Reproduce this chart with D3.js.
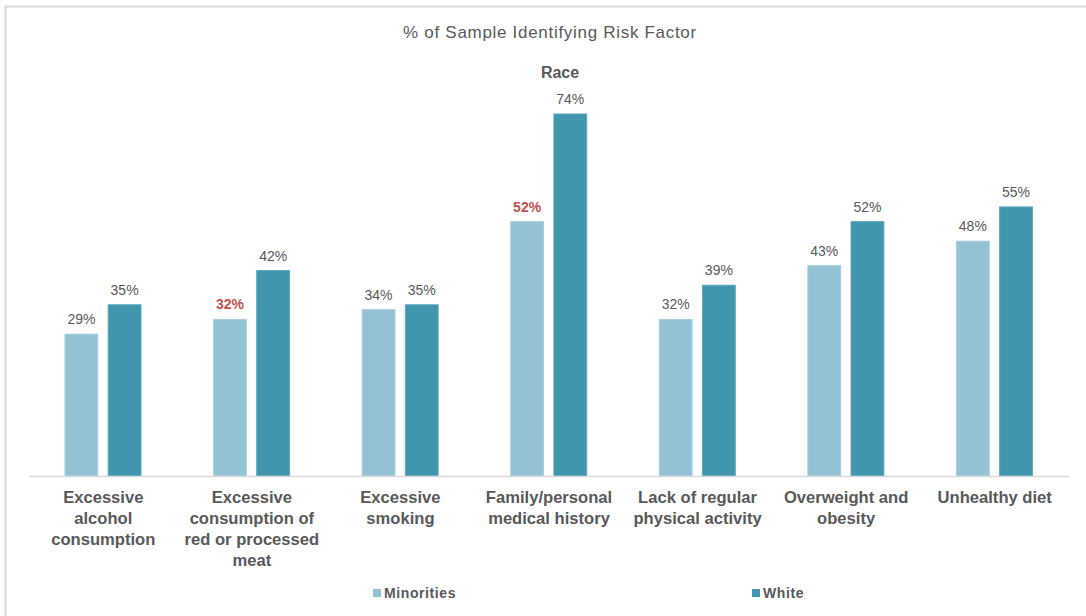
<!DOCTYPE html>
<html><head><meta charset="utf-8">
<script src="https://cdn.jsdelivr.net/npm/d3@7"></script>
<style>body{margin:0;background:#fff}svg{display:block;font-family:"Liberation Sans",Arial,sans-serif}</style>
</head><body><svg id="c" width="1086" height="616"></svg>
<script>
const categories = [
  ["Excessive","alcohol","consumption"],
  ["Excessive","consumption of","red or processed","meat"],
  ["Excessive","smoking"],
  ["Family/personal","medical history"],
  ["Lack of regular","physical activity"],
  ["Overweight and","obesity"],
  ["Unhealthy diet"]
];
const seriesNames = ["Minorities","White"];
const minorities = [29,32,34,52,32,43,48];
const white = [35,42,35,74,39,52,55];
const highlighted = [[false,true,false,true,false,false,false],[false,false,false,false,false,false,false]];
const colors = ["#92c2d4","#4196ae"];

const svg = d3.select("#c");
svg.append("rect").attr("x",5.5).attr("y",6.5).attr("width",1100).attr("height",700)
  .attr("fill","none").attr("stroke","#d9d9d9").attr("stroke-width",2);

const x0 = d3.scaleBand().domain(d3.range(categories.length)).range([29,1069]).paddingInner(0).paddingOuter(0);
const x1 = d3.scaleBand().domain([0,1]).range([36,112]).paddingInner(0.24);
const y = d3.scaleLinear().domain([0,74]).range([476,114]);

svg.append("text").attr("x",550).attr("y",38).attr("text-anchor","middle")
  .attr("font-size",17).attr("letter-spacing",0.7).attr("fill","#595959").text("% of Sample Identifying Risk Factor");
svg.append("text").attr("x",560).attr("y",78).attr("text-anchor","middle")
  .attr("font-size",16).attr("font-weight","bold").attr("fill","#595959").text("Race");

const data = [minorities, white];
data.forEach((vals, s) => {
  const g = svg.append("g");
  g.selectAll("rect").data(vals).join("rect")
    .attr("x",(d,i)=>x0(i)+x1(s)).attr("width",x1.bandwidth())
    .attr("y",d=>y(d)).attr("height",d=>y(0)-y(d))
    .attr("fill",colors[s]).attr("stroke",s===0?"#a9d0de":"#5aa8bd").attr("stroke-width",1);
  g.selectAll("text").data(vals).join("text")
    .attr("x",(d,i)=>x0(i)+x1(s)+x1.bandwidth()/2).attr("y",d=>y(d)-10)
    .attr("text-anchor","middle").attr("font-size",14)
    .attr("font-weight",(d,i)=>highlighted[s][i]?"bold":"normal")
    .attr("fill",(d,i)=>highlighted[s][i]?"#c0504d":"#595959")
    .text(d=>d+"%");
});

svg.append("line").attr("x1",29).attr("x2",1069).attr("y1",476.5).attr("y2",476.5)
  .attr("stroke","#d9d9d9").attr("stroke-width",1.5);

const xl = svg.append("g");
categories.forEach((lines,i)=>{
  const t = xl.append("text").attr("x",x0(i)+x0.bandwidth()/2).attr("y",503)
    .attr("text-anchor","middle").attr("font-size",16.6).attr("font-weight","bold").attr("fill","#595959");
  lines.forEach((l,k)=>t.append("tspan").attr("x",x0(i)+x0.bandwidth()/2).attr("dy",k===0?0:21).text(l));
});

const legX = [373,752];
seriesNames.forEach((n,s)=>{
  svg.append("rect").attr("x",legX[s]).attr("y",589).attr("width",8).attr("height",8).attr("fill",colors[s]);
  svg.append("text").attr("x",legX[s]+11).attr("y",598).attr("font-size",14).attr("letter-spacing",0.6).attr("font-weight","bold")
    .attr("fill","#595959").text(n);
});
</script></body></html>
